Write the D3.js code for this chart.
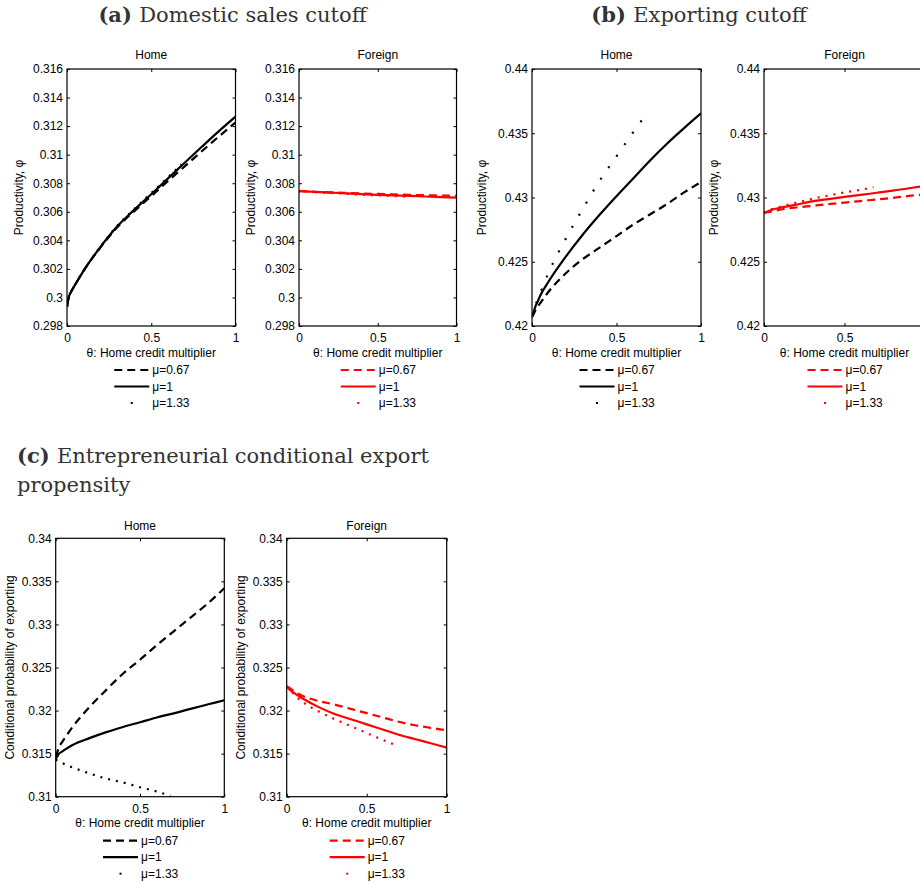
<!DOCTYPE html>
<html>
<head>
<meta charset="utf-8">
<script src="https://cdn.jsdelivr.net/npm/d3@7"></script>
<style>
  body { margin: 0; background: #fff; }
  svg { display: block; }
  text { font-family: "Liberation Sans", Arial, sans-serif; }
</style>
</head>
<body>
<div id="chart"></div>
<script>
// theta grid (Home credit multiplier); the mu=1.33 runs stop near 0.68
const thetaFull = [0, 0.01, 0.02, 0.035, 0.05, 0.1, 0.2, 0.3, 0.4, 0.5, 0.6, 0.7, 0.8, 0.9, 1];
const thetaShort = [0, 0.01, 0.02, 0.035, 0.05, 0.1, 0.2, 0.3, 0.4, 0.5, 0.6, 0.68];
const muLabels = ["\u03bc=0.67", "\u03bc=1", "\u03bc=1.33"];

const xTicks = [0, 0.5, 1];
const yTicksA = [0.298, 0.3, 0.302, 0.304, 0.306, 0.308, 0.31, 0.312, 0.314, 0.316];
const yTicksB = [0.42, 0.425, 0.43, 0.435, 0.44];
const yTicksC = [0.31, 0.315, 0.32, 0.325, 0.33, 0.335, 0.34];

// (a) domestic sales cutoff
const aHome067 = [0.29935, 0.3, 0.3003, 0.30063, 0.30093, 0.3019, 0.30352, 0.30494, 0.30605, 0.3071, 0.30816, 0.3092, 0.31024, 0.31126, 0.31225];
const aHome1   = [0.29935, 0.3, 0.3003, 0.30063, 0.30093, 0.3019, 0.30356, 0.305, 0.30615, 0.30723, 0.30834, 0.30945, 0.31055, 0.31163, 0.31266];
const aHome133 = [0.29935, 0.3, 0.3003, 0.30063, 0.30093, 0.3019, 0.30358, 0.30504, 0.3062, 0.3073, 0.30842, 0.30932];
const aFor067  = [0.30745, 0.30745, 0.30744, 0.30743, 0.30743, 0.3074, 0.30736, 0.30732, 0.30728, 0.30725, 0.30722, 0.30719, 0.30716, 0.30714, 0.30712];
const aFor1    = [0.30745, 0.30745, 0.30744, 0.30743, 0.30742, 0.30739, 0.30734, 0.30729, 0.30724, 0.30719, 0.30715, 0.30711, 0.30707, 0.30703, 0.30699];
const aFor133  = [0.30745, 0.30745, 0.30744, 0.30743, 0.30742, 0.30738, 0.30732, 0.30726, 0.3072, 0.30715, 0.3071, 0.30706];

// (b) exporting cutoff
const bHome067 = [0.4207, 0.42095, 0.4212, 0.42152, 0.4218, 0.4227, 0.4241, 0.4252, 0.4261, 0.427, 0.4279, 0.4287, 0.4295, 0.4304, 0.4312];
const bHome1   = [0.4207, 0.4211, 0.4215, 0.42195, 0.4224, 0.4235, 0.4254, 0.4271, 0.42865, 0.4301, 0.4315, 0.4329, 0.4342, 0.4354, 0.43655];
const bHome133 = [0.4207, 0.42115, 0.4216, 0.4221, 0.4226, 0.4242, 0.4268, 0.4291, 0.4313, 0.4332, 0.4351, 0.43655];
const bFor067  = [0.4288, 0.42883, 0.42885, 0.42888, 0.4289, 0.42905, 0.42922, 0.42935, 0.42948, 0.4296, 0.42972, 0.42985, 0.42997, 0.43012, 0.43025];
const bFor1    = [0.4288, 0.42885, 0.4289, 0.42898, 0.42905, 0.4292, 0.42945, 0.4297, 0.42988, 0.43005, 0.4302, 0.43037, 0.43053, 0.43072, 0.4309];
const bFor133  = [0.4288, 0.42888, 0.42895, 0.42903, 0.4291, 0.42928, 0.4296, 0.4299, 0.43015, 0.4304, 0.4306, 0.4308];

// (c) conditional export propensity
const cHome067 = [0.3146, 0.3152, 0.3158, 0.31625, 0.3167, 0.3181, 0.3204, 0.3224, 0.3243, 0.3259, 0.3276, 0.3292, 0.3308, 0.3324, 0.3342];
const cHome1   = [0.3144, 0.3147, 0.315, 0.3152, 0.3154, 0.316, 0.3168, 0.3175, 0.3181, 0.31865, 0.3192, 0.31968, 0.3202, 0.3207, 0.3212];
const cHome133 = [0.3143, 0.3142, 0.3141, 0.31395, 0.3138, 0.3134, 0.3127, 0.3121, 0.31165, 0.3111, 0.3106, 0.3101];
const cFor067  = [0.3228, 0.3227, 0.3226, 0.3224, 0.3222, 0.3217, 0.3211, 0.3207, 0.3202, 0.3197, 0.3192, 0.3187, 0.3183, 0.318, 0.3177];
const cFor1    = [0.3228, 0.3226, 0.3224, 0.3222, 0.322, 0.3214, 0.3204, 0.3196, 0.319, 0.3184, 0.3178, 0.3172, 0.3167, 0.3162, 0.3157];
const cFor133  = [0.3228, 0.3226, 0.3224, 0.3221, 0.3218, 0.321, 0.3199, 0.319, 0.3182, 0.3174, 0.3166, 0.316];

const W = 920, H = 883;

const svg = d3.select("#chart").append("svg")
  .attr("width", W)
  .attr("height", H);

svg.append("rect").attr("width", W).attr("height", H).attr("fill", "#fff");

// group titles (LaTeX-like serif)
function groupTitle(lines, x, anchor) {
  lines.forEach(l => {
    const t = svg.append("text")
      .attr("x", x)
      .attr("y", l.y)
      .attr("text-anchor", anchor)
      .style("font-family", "'DejaVu Serif', serif")
      .style("font-size", "21px")
      .style("fill", "#333");
    if (l.bold) t.append("tspan").style("font-weight", "bold").text(l.bold + " ");
    t.append("tspan").text(l.text);
  });
}
groupTitle([{ y: 22, bold: "(a)", text: "Domestic sales cutoff" }], 232.5, "middle");
groupTitle([{ y: 22, bold: "(b)", text: "Exporting cutoff" }], 699, "middle");
groupTitle([{ y: 463, bold: "(c)", text: "Entrepreneurial conditional export" },
            { y: 492, text: "propensity" }], 17, "start");

const fmt = v => String(+v.toFixed(3));
let clipId = 0;

function drawPanel(p) {
  const { box } = p;
  const x = d3.scaleLinear().domain([0, 1]).range([box.left, box.right]);
  const y = d3.scaleLinear()
    .domain([p.yTicks[0], p.yTicks[p.yTicks.length - 1]])
    .range([box.bottom, box.top]);
  const g = svg.append("g");
  const id = "clip" + (clipId++);

  g.append("clipPath").attr("id", id)
    .append("rect")
    .attr("x", box.left).attr("y", box.top)
    .attr("width", box.right - box.left).attr("height", box.bottom - box.top);

  // curves
  const line = d3.line()
    .x(d => x(d[0]))
    .y(d => y(d[1]))
    .curve(d3.curveMonotoneX);

  const styles = [
    { dash: "8,5", width: 2.2 },
    { dash: null, width: 2.2 },
    { dash: "2," + p.dotGap, width: 2.2 }
  ];

  p.series.forEach((vals, i) => {
    const thetas = vals.length === thetaFull.length ? thetaFull : thetaShort;
    g.append("path")
      .datum(vals.map((v, k) => [thetas[k], v]))
      .attr("clip-path", `url(#${id})`)
      .attr("d", line)
      .attr("fill", "none")
      .attr("stroke", p.color)
      .attr("stroke-width", styles[i].width)
      .attr("stroke-dasharray", styles[i].dash);
  });

  // axes with inward ticks on all four sides
  const styleAxis = a => {
    a.select(".domain").remove();
    a.selectAll("line").attr("stroke", "#000").attr("stroke-width", 1);
    a.selectAll("text")
      .style("font-family", "'Liberation Sans', Arial, sans-serif")
      .style("font-size", "12px")
      .attr("fill", "#000");
  };

  g.append("g")
    .attr("transform", `translate(${box.left},0)`)
    .call(d3.axisLeft(y).tickValues(p.yTicks).tickSize(-3).tickPadding(4).tickFormat(fmt))
    .call(styleAxis);
  g.append("g")
    .attr("transform", `translate(${box.right},0)`)
    .call(d3.axisRight(y).tickValues(p.yTicks).tickSize(-3).tickFormat(""))
    .call(styleAxis);
  const xb = g.append("g")
    .attr("transform", `translate(0,${box.bottom})`)
    .call(d3.axisBottom(x).tickValues(xTicks).tickSize(-3).tickPadding(7.5).tickFormat(fmt))
    .call(styleAxis);
  // tick labels falling past the page edge are not shown
  xb.selectAll(".tick").filter(d => x(d) > W - 4).select("text").remove();
  g.append("g")
    .attr("transform", `translate(0,${box.top})`)
    .call(d3.axisTop(x).tickValues(xTicks).tickSize(-3).tickFormat(""))
    .call(styleAxis);

  g.append("rect")
    .attr("x", box.left).attr("y", box.top)
    .attr("width", box.right - box.left).attr("height", box.bottom - box.top)
    .attr("fill", "none")
    .attr("stroke", "#000")
    .attr("stroke-width", 1.2);

  const cx = (box.left + box.right) / 2;
  const cy = (box.top + box.bottom) / 2;

  // panel title
  g.append("text")
    .attr("x", cx)
    .attr("y", box.top - p.titleGap)
    .attr("text-anchor", "middle")
    .style("font-size", "12px")
    .text(p.title);

  // y label
  g.append("text")
    .attr("transform", `translate(${box.left - p.yLabelGap},${cy}) rotate(-90)`)
    .attr("text-anchor", "middle")
    .style("font-size", "12px")
    .text(p.yLabel);

  // x label
  g.append("text")
    .attr("x", cx)
    .attr("y", box.bottom + 30.5)
    .attr("text-anchor", "middle")
    .style("font-size", "12px")
    .text("\u03b8: Home credit multiplier");

  // legend below the axes
  const rows = [44, 60.5, 77];
  muLabels.forEach((lab, i) => {
    const ly = box.bottom + rows[i];
    if (i < 2) {
      g.append("line")
        .attr("x1", cx - 37).attr("x2", cx - 2)
        .attr("y1", ly).attr("y2", ly)
        .attr("stroke", p.color)
        .attr("stroke-width", 2.2)
        .attr("stroke-dasharray", styles[i].dash);
    } else {
      g.append("rect")
        .attr("x", cx - 20.5).attr("y", ly - 1)
        .attr("width", 2).attr("height", 2)
        .attr("fill", p.color);
    }
    g.append("text")
      .attr("x", cx + 1)
      .attr("y", ly)
      .attr("dy", "0.35em")
      .style("font-size", "12px")
      .text(lab);
  });
}

const panels = [
  { box: { left: 67, right: 235.5, top: 69, bottom: 326 }, yTicks: yTicksA, color: "#000",
    series: [aHome067, aHome1, aHome133], title: "Home", yLabel: "Productivity, \u03c6",
    titleGap: 10.3, yLabelGap: 44, dotGap: 6 },
  { box: { left: 299, right: 456.5, top: 69, bottom: 326 }, yTicks: yTicksA, color: "#ff0000",
    series: [aFor067, aFor1, aFor133], title: "Foreign", yLabel: "Productivity, \u03c6",
    titleGap: 10.3, yLabelGap: 44, dotGap: 6 },
  { box: { left: 532, right: 701, top: 69, bottom: 326 }, yTicks: yTicksB, color: "#000",
    series: [bHome067, bHome1, bHome133], title: "Home", yLabel: "Productivity, \u03c6",
    titleGap: 10.3, yLabelGap: 46, dotGap: 12 },
  { box: { left: 764, right: 925, top: 69, bottom: 326 }, yTicks: yTicksB, color: "#ff0000",
    series: [bFor067, bFor1, bFor133], title: "Foreign", yLabel: "Productivity, \u03c6",
    titleGap: 10.3, yLabelGap: 46, dotGap: 6 },
  { box: { left: 55.7, right: 224.3, top: 538.3, bottom: 796.7 }, yTicks: yTicksC, color: "#000",
    series: [cHome067, cHome1, cHome133], title: "Home", yLabel: "Conditional probability of exporting",
    titleGap: 8, yLabelGap: 42, dotGap: 6 },
  { box: { left: 286.7, right: 446.7, top: 538.3, bottom: 796.7 }, yTicks: yTicksC, color: "#ff0000",
    series: [cFor067, cFor1, cFor133], title: "Foreign", yLabel: "Conditional probability of exporting",
    titleGap: 8, yLabelGap: 42, dotGap: 6 }
];

panels.forEach(drawPanel);
</script>
</body>
</html>
